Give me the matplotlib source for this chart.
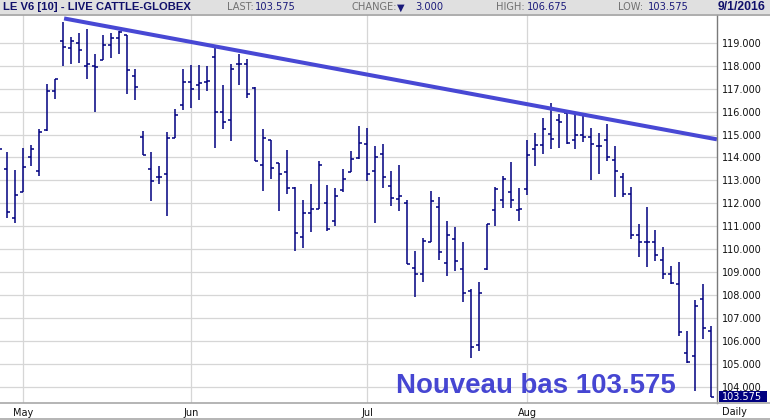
import matplotlib
matplotlib.use('Agg')
import matplotlib.pyplot as plt
import numpy as np
import pandas as pd
from matplotlib.lines import Line2D
from matplotlib.patches import Rectangle

# trading days shown (Apr 27 -> Sep 1 2016, exchange holidays removed)
dates = pd.bdate_range('2016-04-27', '2016-09-01')
dates = dates[~dates.isin(pd.to_datetime(['2016-05-30', '2016-07-04']))]

opens = [114.00, 113.48, 111.36, 112.51, 114.04, 113.43, 115.20, 116.91, 119.09, 118.78,
         119.00, 118.00, 118.00, 118.26, 118.91, 119.22, 119.35, 117.57, 114.91, 113.48,
         113.17, 113.30, 114.86, 116.28, 117.29, 117.14, 117.30, 118.36, 116.00, 115.65,
         118.09, 118.09, 117.04, 113.65, 114.74, 113.75, 113.35, 112.67, 110.52, 111.59,
         111.74, 112.00, 111.23, 112.58, 113.38, 113.96, 114.58, 113.41, 114.17, 112.74,
         112.19, 112.00, 109.17, 108.92, 110.30, 111.83, 109.39, 110.45, 109.13, 108.19,
         105.81, 109.14, 111.71, 112.14, 112.49, 111.71, 112.61, 114.36, 114.54, 115.03,
         115.62, 115.94, 114.75, 115.00, 114.91, 114.48, 114.75, 113.87, 113.17, 112.39,
         110.61, 110.30, 110.30, 109.55, 108.91, 108.49, 105.46, 105.35, 107.84, 106.45]
highs = [114.80, 114.25, 113.45, 114.41, 114.54, 115.23, 117.22, 117.43, 119.90, 119.23,
         119.41, 119.62, 118.49, 119.32, 119.41, 119.52, 119.35, 117.87, 115.17, 114.25,
         113.62, 115.13, 116.13, 117.84, 118.03, 118.01, 117.97, 118.83, 117.14, 118.06,
         118.51, 118.28, 117.06, 115.23, 114.78, 113.78, 114.32, 112.71, 112.14, 112.84,
         113.86, 112.80, 112.68, 113.49, 114.29, 115.36, 115.28, 114.49, 114.58, 113.41,
         113.67, 112.14, 109.93, 110.49, 112.54, 112.28, 111.25, 110.99, 110.32, 108.26,
         108.57, 111.10, 112.70, 113.19, 113.80, 112.67, 114.75, 115.06, 115.70, 116.36,
         115.88, 115.94, 115.90, 115.83, 115.28, 115.06, 115.45, 114.49, 113.32, 112.71,
         111.09, 111.83, 110.84, 110.09, 109.26, 109.45, 106.45, 107.78, 108.49, 106.675]
lows = [113.90, 111.38, 111.16, 112.50, 113.64, 113.20, 115.17, 116.54, 117.99, 118.07,
        118.12, 117.43, 115.99, 118.26, 118.33, 118.51, 116.77, 116.51, 114.09, 112.12,
        112.86, 111.46, 114.86, 116.07, 116.17, 116.50, 116.90, 114.43, 115.23, 114.72,
        117.16, 116.59, 113.83, 112.55, 113.04, 111.68, 112.39, 109.91, 110.07, 110.74,
        111.74, 110.81, 111.01, 112.51, 113.35, 113.94, 112.97, 111.16, 112.68, 111.88,
        111.67, 109.35, 107.90, 108.55, 110.30, 109.55, 108.85, 109.03, 107.72, 105.26,
        105.55, 109.10, 111.01, 111.81, 111.81, 111.25, 112.38, 113.61, 114.16, 114.39,
        114.43, 114.57, 114.39, 114.67, 113.03, 113.29, 113.83, 112.26, 112.28, 110.43,
        109.65, 109.22, 109.48, 108.72, 108.49, 106.23, 105.06, 103.84, 106.09, 103.575]
closes = [114.39, 111.61, 112.35, 113.57, 114.35, 115.09, 116.91, 117.41, 118.81, 119.06,
          118.67, 118.09, 117.96, 118.91, 119.22, 119.45, 117.83, 117.09, 114.09, 112.97,
          113.17, 114.83, 115.83, 117.30, 116.97, 117.23, 117.33, 116.00, 115.54, 117.87,
          118.09, 116.78, 113.83, 114.87, 113.52, 113.30, 112.67, 110.71, 111.57, 111.74,
          113.65, 110.87, 112.30, 113.06, 113.94, 114.65, 113.30, 114.00, 113.13, 112.22,
          112.33, 109.35, 108.92, 110.35, 112.10, 109.87, 110.62, 109.49, 108.09, 105.74,
          108.09, 111.10, 112.62, 113.04, 112.14, 111.75, 114.09, 114.54, 115.23, 114.80,
          115.55, 114.64, 115.00, 114.91, 114.57, 114.52, 114.01, 113.41, 112.39, 110.61,
          110.30, 110.30, 109.74, 108.91, 108.54, 106.41, 105.09, 107.51, 106.575, 103.575]

# hand-drawn resistance line (bar index, price)
trend_x = [8.1, 89.7]
trend_y = [120.06, 114.79]

price_ticks = list(range(104, 120))
month_names = ['May', 'Jun', 'Jul', 'Aug']

navy = '#000080'
W, H = 770, 420

def fx(x):
    return x / W

def fy(y):
    return 1 - y / H

fig = plt.figure(figsize=(7.7, 4.2), dpi=100)
ax = fig.add_axes([0, fy(402.7), fx(717), (402.7 - 15) / H])

x = np.arange(len(dates))
ax.vlines(x, lows, highs, color=navy, lw=1.1)
ax.hlines(opens, x - 0.38, x, color=navy, lw=1.1)
ax.hlines(closes, x, x + 0.38, color=navy, lw=1.1)

ax.plot(trend_x, trend_y, color='#4848d4', lw=2.9, solid_capstyle='butt')

ax.set_xlim(0.0875, 89.71)
ax.set_ylim(103.31, 120.21)

# month gridlines at first trading day of each month
month_pos = [int(np.argmax(dates.month == m)) for m in [5, 6, 7, 8]]
ax.set_xticks(month_pos)
ax.set_xticklabels(month_names)
ax.set_yticks(price_ticks)
ax.set_yticklabels(['%.3f' % p for p in price_ticks])
ax.yaxis.tick_right()
ax.tick_params(length=0, labelsize=7, colors='#111111')
ax.tick_params(axis='y', pad=3.5)
ax.tick_params(axis='x', pad=4)
ax.grid(True, color='#d6d6d6', lw=0.9)
ax.set_axisbelow(True)
for s in ['left', 'top', 'bottom']:
    ax.spines[s].set_visible(False)
ax.spines['right'].set_color('#7a7a7a')
ax.spines['right'].set_linewidth(1.0)

# bottom frame lines
fig.add_artist(Line2D([0, 1], [fy(402.7), fy(402.7)], color='#a8a8a8', lw=1.2))
fig.add_artist(Line2D([0, 1], [fy(418.7), fy(418.7)], color='#a8a8a8', lw=1.2))
fig.text(fx(734), fy(412), 'Daily', fontsize=7, ha='center', va='center', color='#111111')

# last price box
fig.add_artist(Rectangle((fx(719), fy(402)), fx(48), 11 / H, color=navy, lw=0))
fig.text(fx(722), fy(396.5), '103.575', fontsize=7, ha='left', va='center', color='white')

# header bar
fig.add_artist(Rectangle((0, fy(14)), 1, 14 / H, color='#e0e0e0', lw=0))
fig.add_artist(Line2D([0, 1], [fy(14.5), fy(14.5)], color='#a0a0a0', lw=1.2))
fig.text(fx(3), fy(7.5), 'LE V6 [10] - LIVE CATTLE-GLOBEX', fontsize=8.1, fontweight='bold',
         family='Liberation Sans', color='#10106a', ha='left', va='center')
hdr = [(227, 'LAST:', '#707070'), (255, '103.575', '#1a1a7a'),
       (352, 'CHANGE:', '#707070'), (397, '\u25bc', '#1a1a7a'), (415, '3.000', '#1a1a7a'),
       (496, 'HIGH:', '#707070'), (527, '106.675', '#1a1a7a'),
       (618, 'LOW:', '#707070'), (648, '103.575', '#1a1a7a')]
for hx, txt, col in hdr:
    fig.text(fx(hx), fy(7.5), txt, fontsize=7.1, color=col, ha='left', va='center')
fig.text(fx(765), fy(7.5), '9/1/2016', fontsize=8.8, fontweight='bold',
         family='Liberation Sans', color='#10106a', ha='right', va='center')

# annotation
fig.text(fx(396), fy(386), 'Nouveau bas 103.575', fontsize=19.9, fontweight='bold',
         family='Liberation Sans', color='#4646d2', ha='left', va='center')

fig.savefig('out.png', dpi=100)
